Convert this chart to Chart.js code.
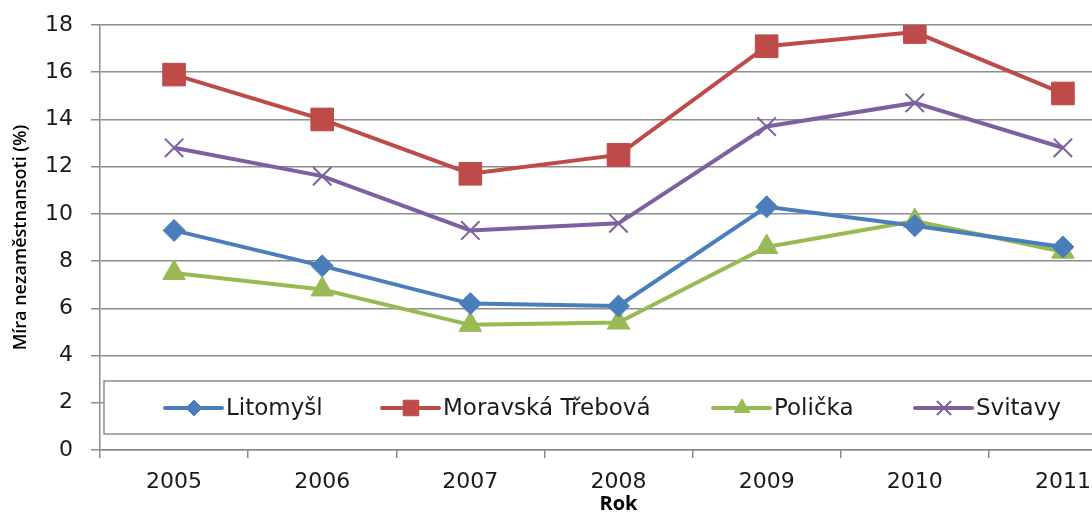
<!DOCTYPE html>
<html lang="cs">
  <head>
    <meta charset="UTF-8" />
    <title>Míra nezaměstnanosti</title>
    <script src="https://cdn.jsdelivr.net/npm/chart.js@4"></script>
    <style>
      html, body { margin: 0; padding: 0; background: #fff; overflow: hidden; }
      .wrap { position: relative; width: 1154px; height: 516px; }
    </style>
  </head>
  <body>
    <div class="wrap">
      <canvas id="chart"></canvas>
    </div>
    <script>
      const years = ["2005", "2006", "2007", "2008", "2009", "2010", "2011"];
      const litomysl = [9.3, 7.8, 6.2, 6.1, 10.3, 9.5, 8.6];
      const moravskaTrebova = [15.9, 14.0, 11.7, 12.5, 17.1, 17.7, 15.1];
      const policka = [7.5, 6.8, 5.3, 5.4, 8.6, 9.7, 8.4];
      const svitavy = [12.8, 11.6, 9.3, 9.6, 13.7, 14.7, 12.8];

      const FONT = "'DejaVu Sans', sans-serif";
      const TITLE_FONT = "'Open Sans', 'DejaVu Sans', sans-serif";
      const GRID = "#8c8c8c";

      function series(label, data, color, style, radius, legendRadius, bw) {
        return {
          label: label,
          data: data,
          borderColor: color,
          backgroundColor: color,
          borderWidth: 4,
          pointStyle: style,
          pointRadius: radius,
          pointHoverRadius: radius,
          pointBorderWidth: bw,
          pointBackgroundColor: color,
          pointBorderColor: color,
          legendRadius: legendRadius,
          tension: 0
        };
      }

      // legend drawn inside the plot area, in a white box
      const innerLegend = {
        id: "innerLegend",
        afterDatasetsDraw(chart) {
          const ctx = chart.ctx;
          const area = chart.chartArea;
          ctx.save();
          ctx.fillStyle = "#fff";
          ctx.strokeStyle = GRID;
          ctx.lineWidth = 1.5;
          ctx.fillRect(104, 381, area.right - 108, 53);
          ctx.strokeRect(104, 381, area.right - 108, 53);

          const itemX = [165, 382, 713, 915];
          const cy = 408;
          chart.data.datasets.forEach((ds, i) => {
            const x0 = itemX[i];
            ctx.strokeStyle = ds.borderColor;
            ctx.fillStyle = ds.borderColor;
            ctx.lineWidth = 4;
            ctx.lineCap = "round";
            ctx.beginPath();
            ctx.moveTo(x0, cy);
            ctx.lineTo(x0 + 57, cy);
            ctx.stroke();
            ctx.lineCap = "butt";
            ctx.lineWidth = ds.pointBorderWidth;
            Chart.helpers.drawPoint(ctx, {
              pointStyle: ds.pointStyle,
              radius: ds.legendRadius,
              rotation: 0,
              borderWidth: ds.pointBorderWidth
            }, x0 + 29, cy);
            ctx.fillStyle = "#1a1a1a";
            ctx.font = "23px " + FONT;
            ctx.textBaseline = "middle";
            ctx.textAlign = "left";
            ctx.fillText(ds.label, x0 + 61, cy + 1);
          });
          ctx.restore();
        }
      };

      new Chart(document.getElementById("chart"), {
        type: "line",
        data: {
          labels: years,
          datasets: [
            series("Litomyšl", litomysl, "#4a7ebb", "rectRot", 11, 8, 1),
            series("Moravská Třebová", moravskaTrebova, "#be4b48", "rect", 16, 11, 1),
            series("Polička", policka, "#98b954", "triangle", 13, 9, 1),
            series("Svitavy", svitavy, "#7d60a0", "crossRot", 13, 10, 2)
          ]
        },
        options: {
          responsive: true,
          maintainAspectRatio: false,
          animation: false,
          layout: { padding: { top: 25, right: 5, left: 0, bottom: 0 } },
          plugins: {
            legend: { display: false },
            tooltip: { enabled: false }
          },
          scales: {
            x: {
              offset: true,
              grid: {
                offset: true,
                drawOnChartArea: false,
                color: GRID,
                lineWidth: 1.5,
                tickLength: 8
              },
              border: { color: GRID, width: 1.5 },
              ticks: {
                color: "#1a1a1a",
                font: { family: FONT, size: 22 },
                padding: 11,
                maxRotation: 0
              },
              title: {
                display: true,
                text: "Rok",
                color: "#000",
                font: { family: TITLE_FONT, size: 20, weight: "bold" },
                padding: { top: 0, bottom: 0 }
              },
              afterFit(scale) { scale.height = 66; }
            },
            y: {
              min: 0,
              max: 18,
              ticks: {
                stepSize: 2,
                color: "#1a1a1a",
                font: { family: FONT, size: 22 },
                padding: 18
              },
              grid: {
                color: GRID,
                lineWidth: 1.5,
                tickLength: 9
              },
              border: { color: GRID, width: 1.5 },
              title: {
                display: true,
                text: "Míra nezaměstnansoti (%)",
                color: "#000",
                font: { family: TITLE_FONT, size: 18, weight: "600" },
                padding: { top: 10, bottom: 0 }
              },
              afterFit(scale) {
                scale.width = 100;
                scale.paddingTop = 0;
                scale.paddingBottom = 0;
              }
            }
          }
        },
        plugins: [innerLegend]
      });
    </script>
  </body>
</html>
